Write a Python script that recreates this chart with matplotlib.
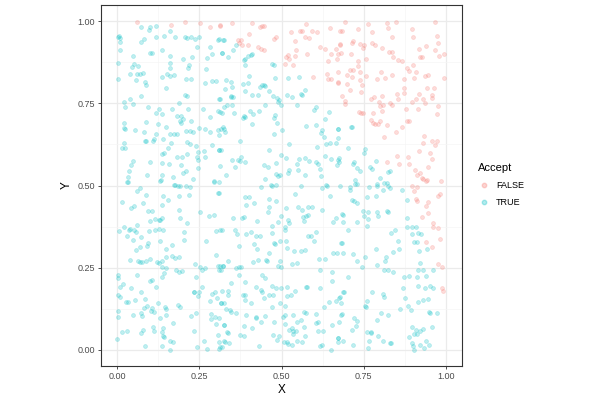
import numpy as np
import matplotlib
matplotlib.use("Agg")
import matplotlib.pyplot as plt
from matplotlib.lines import Line2D

plt.rcParams['font.family'] = ['Liberation Sans', 'DejaVu Sans']

# points, split by the "Accept" colour
false_x = [0.060, 0.164, 0.207, 0.252, 0.283, 0.313,
           0.312, 0.350, 0.411, 0.435, 0.441, 0.446, 0.366, 0.377, 0.370, 0.380, 0.398, 0.400, 0.429, 0.438,
           0.446, 0.477, 0.484, 0.528, 0.541, 0.555, 0.563, 0.575, 0.573, 0.583, 0.592, 0.607, 0.647, 0.677,
           0.519, 0.515, 0.524, 0.543, 0.541, 0.578, 0.535, 0.512, 0.617, 0.634, 0.665, 0.651, 0.677, 0.680,
           0.670, 0.642, 0.596, 0.638, 0.642, 0.650, 0.672,
           0.693, 0.683, 0.734, 0.764, 0.775, 0.820, 0.825, 0.848, 0.838, 0.897, 0.902, 0.968, 0.975, 0.978,
           0.968, 0.941, 0.920, 0.922, 0.927, 0.980, 0.994, 0.717, 0.714, 0.739, 0.749, 0.752, 0.775, 0.785,
           0.711, 0.673, 0.677, 0.807, 0.827, 0.836, 0.839, 0.854, 0.866, 0.759, 0.734, 0.734, 0.710, 0.717,
           0.739, 0.701, 0.716, 0.756, 0.803, 0.790, 0.815, 0.838, 0.874, 0.881, 0.889, 0.901, 0.910, 0.905,
           0.937, 0.947, 0.994, 0.673, 0.673, 0.701, 0.738, 0.746, 0.709, 0.743, 0.685, 0.693, 0.695, 0.773,
           0.783, 0.805, 0.851, 0.856, 0.874, 0.874, 0.918, 0.909, 0.897, 0.932, 0.937, 0.943, 0.960, 0.965,
           0.958, 0.797, 0.800, 0.810, 0.831, 0.836, 0.805, 0.976, 0.974, 0.917, 0.879, 0.736, 0.742, 0.749,
           0.780, 0.773, 0.778, 0.785, 0.795, 0.800, 0.820, 0.866, 0.848, 0.812, 0.881, 0.889, 0.935, 0.932,
           0.958, 0.973, 0.968, 0.919, 0.952, 0.960, 0.851, 0.884, 0.822, 0.859, 0.888, 0.945, 0.907, 0.921,
           0.914, 0.927, 0.932, 0.942, 0.986,
           0.897, 0.914, 0.905, 0.912, 0.909, 0.939, 0.947, 0.978, 0.983, 0.939, 0.947, 0.929, 0.963, 0.962,
           0.976, 0.984, 0.940, 0.958, 0.978, 0.988, 0.988, 0.991]
false_y = [0.998, 0.990, 0.998, 0.996, 0.984, 0.988,
           0.986, 0.995, 0.994, 0.982, 0.986, 0.986, 0.942, 0.943, 0.934, 0.927, 0.927, 0.961, 0.922, 0.917,
           0.914, 0.947, 0.952, 0.967, 0.940, 0.972, 0.972, 0.992, 0.952, 0.950, 0.971, 0.967, 0.980, 0.972,
           0.899, 0.891, 0.886, 0.914, 0.896, 0.900, 0.866, 0.869, 0.922, 0.917, 0.916, 0.901, 0.929, 0.903,
           0.886, 0.880, 0.832, 0.840, 0.823, 0.823, 0.813,
           0.998, 0.970, 0.978, 0.993, 0.967, 0.996, 0.981, 0.998, 0.954, 0.976, 0.954, 0.998, 0.956, 0.934,
           0.914, 0.925, 0.917, 0.891, 0.893, 0.896, 0.901, 0.939, 0.935, 0.930, 0.919, 0.929, 0.934, 0.929,
           0.901, 0.901, 0.930, 0.919, 0.906, 0.906, 0.893, 0.882, 0.879, 0.886, 0.878, 0.863, 0.853, 0.853,
           0.846, 0.837, 0.832, 0.835, 0.846, 0.825, 0.827, 0.837, 0.823, 0.858, 0.850, 0.866, 0.846, 0.827,
           0.833, 0.837, 0.829, 0.846, 0.815, 0.809, 0.820, 0.805, 0.790, 0.784, 0.772, 0.756, 0.749, 0.764,
           0.771, 0.774, 0.780, 0.764, 0.798, 0.783, 0.778, 0.763, 0.754, 0.764, 0.752, 0.798, 0.776, 0.797,
           0.766, 0.754, 0.742, 0.746, 0.751, 0.746, 0.726, 0.742, 0.718, 0.734, 0.732, 0.724, 0.722, 0.722,
           0.722, 0.701, 0.691, 0.688, 0.688, 0.698, 0.683, 0.678, 0.663, 0.647, 0.698, 0.696, 0.650, 0.630,
           0.637, 0.637, 0.624, 0.605, 0.600, 0.581, 0.589, 0.586, 0.571, 0.566, 0.566, 0.556, 0.546, 0.538,
           0.531, 0.523, 0.520, 0.518, 0.515,
           0.498, 0.495, 0.482, 0.452, 0.459, 0.515, 0.449, 0.469, 0.474, 0.437, 0.415, 0.403, 0.385, 0.373,
           0.371, 0.337, 0.327, 0.312, 0.261, 0.253, 0.188, 0.178]

true_x = [0.073, 0.098, 0.096, 0.118, 0.159, 0.006, 0.008, 0.003, 0.008, 0.081, 0.073, 0.118, 0.141, 0.177,
          0.205, 0.212, 0.225, 0.235, 0.250, 0.308, 0.324, 0.008, 0.242, 0.281, 0.135, 0.098, 0.106, 0.049,
          0.159, 0.200, 0.228, 0.273, 0.289, 0.320, 0.002, 0.050, 0.043, 0.064, 0.159, 0.161, 0.217, 0.214,
          0.271, 0.038, 0.061, 0.068, 0.077, 0.137, 0.152, 0.161, 0.171, 0.002, 0.057, 0.084, 0.086, 0.149,
          0.210, 0.223, 0.268, 0.289, 0.299, 0.207, 0.211, 0.072, 0.038, 0.019, 0.049, 0.189, 0.312, 0.023,
          0.094, 0.126, 0.118, 0.137, 0.165, 0.214, 0.261, 0.306, 0.320, 0.182, 0.195, 0.200, 0.281, 0.019,
          0.087, 0.125, 0.190, 0.193, 0.223, 0.019, 0.022, 0.054, 0.081, 0.118, 0.147, 0.159, 0.171, 0.183,
          0.208, 0.220, 0.230, 0.250, 0.266, 0.283, 0.307, 0.324, 0.088, 0.084, 0.108, 0.113, 0.140, 0.162,
          0.213, 0.220, 0.240, 0.247, 0.265, 0.287, 0.309, 0.315, 0.019, 0.013, 0.024, 0.154, 0.142, 0.137,
          0.183, 0.198, 0.212, 0.242, 0.246, 0.268, 0.049, 0.098, 0.137, 0.156, 0.194, 0.042, 0.245, 0.036,
          0.208, 0.201, 0.031, 0.091, 0.135, 0.170, 0.230, 0.031, 0.133, 0.176, 0.293,
          0.309, 0.323, 0.362, 0.352, 0.319, 0.336, 0.390, 0.386, 0.398, 0.406, 0.411, 0.388, 0.470, 0.477,
          0.400, 0.519, 0.553, 0.331, 0.345, 0.350, 0.329, 0.384, 0.398, 0.390, 0.436, 0.441, 0.448, 0.449,
          0.480, 0.463, 0.474, 0.487, 0.492, 0.517, 0.533, 0.558, 0.563, 0.571, 0.345, 0.352, 0.347, 0.409,
          0.428, 0.311, 0.333, 0.348, 0.325, 0.314, 0.355, 0.385, 0.390, 0.382, 0.404, 0.413, 0.431,
          0.451, 0.480, 0.477, 0.485, 0.499, 0.490, 0.546, 0.604, 0.599, 0.644, 0.632, 0.411, 0.321, 0.317,
          0.329, 0.309, 0.477, 0.502, 0.575, 0.606, 0.624, 0.673, 0.621, 0.630, 0.636, 0.649, 0.665, 0.524,
          0.374, 0.309, 0.607, 0.463, 0.497, 0.514, 0.553, 0.571, 0.583, 0.604, 0.612, 0.616, 0.632, 0.651,
          0.675, 0.670, 0.350, 0.367, 0.377, 0.374, 0.390, 0.358, 0.314, 0.446, 0.459, 0.482, 0.524, 0.520,
          0.484, 0.490, 0.495, 0.548, 0.550, 0.571, 0.621, 0.637, 0.449, 0.469, 0.331, 0.310,
          0.714, 0.711, 0.673, 0.673, 0.703, 0.754, 0.752, 0.673, 0.675, 0.722, 0.717, 0.731, 0.739, 0.770,
          0.775, 0.788, 0.831, 0.825, 0.724, 0.800, 0.731, 0.792, 0.820,
          0.030, 0.131, 0.171, 0.184, 0.192, 0.210, 0.222, 0.218, 0.070, 0.060, 0.086, 0.139, 0.137, 0.154,
          0.189, 0.307, 0.293, 0.015, 0.041, 0.051, 0.077, 0.093, 0.106, 0.187, 0.192, 0.213, 0.252, 0.279,
          0.294, 0.116, 0.126, 0.130, 0.100, 0.137, 0.060, 0.004, 0.019, 0.028, 0.035, 0.039, 0.052, 0.057,
          0.048, 0.072, 0.096, 0.116, 0.126, 0.139, 0.202, 0.129, 0.094, 0.090, 0.068, 0.057, 0.149, 0.167,
          0.204, 0.271, 0.299, 0.301, 0.318, 0.039, 0.062, 0.068, 0.075, 0.098, 0.088, 0.120, 0.128, 0.137,
          0.147, 0.165, 0.175, 0.189, 0.179, 0.189, 0.198, 0.137, 0.149, 0.142, 0.135, 0.237, 0.253, 0.267,
          0.259, 0.305, 0.322, 0.002, 0.002, 0.017, 0.008, 0.040, 0.059, 0.098, 0.106, 0.118, 0.071, 0.001,
          0.008, 0.027, 0.033, 0.053, 0.085, 0.082, 0.091, 0.101, 0.111, 0.106, 0.124, 0.146, 0.147, 0.185,
          0.191, 0.149, 0.130, 0.169, 0.225, 0.240, 0.283, 0.289, 0.296, 0.304, 0.315, 0.324, 0.259, 0.250,
          0.245, 0.232, 0.240, 0.234, 0.001, 0.001, 0.047, 0.073, 0.075, 0.108, 0.113, 0.139, 0.079, 0.073,
          0.013, 0.030, 0.000, 0.135, 0.139, 0.141, 0.159, 0.169, 0.137, 0.159, 0.085, 0.234, 0.263, 0.243,
          0.274, 0.285, 0.286, 0.297, 0.299, 0.311, 0.325, 0.305, 0.313, 0.324,
          0.309, 0.388, 0.402, 0.392, 0.415, 0.438, 0.472, 0.484, 0.558, 0.624, 0.640, 0.677, 0.647, 0.541,
          0.461, 0.482, 0.463, 0.459, 0.498, 0.515, 0.550, 0.561, 0.581, 0.594, 0.624, 0.575, 0.580, 0.519,
          0.522, 0.570, 0.566, 0.658, 0.667, 0.685, 0.352, 0.380, 0.385, 0.426, 0.472, 0.512, 0.512, 0.488,
          0.314, 0.358, 0.365, 0.392, 0.407, 0.421, 0.433, 0.470, 0.494, 0.477, 0.480, 0.515, 0.604, 0.580,
          0.589, 0.599, 0.685, 0.416, 0.424, 0.463, 0.372, 0.517, 0.538, 0.558, 0.573, 0.658, 0.670, 0.614,
          0.634, 0.413, 0.429, 0.453, 0.456, 0.495, 0.490, 0.497, 0.548, 0.533, 0.337, 0.362, 0.372, 0.378,
          0.314, 0.321, 0.317, 0.309, 0.370, 0.345, 0.388, 0.441, 0.451, 0.470, 0.484, 0.499, 0.517, 0.541,
          0.530, 0.517, 0.616, 0.655, 0.655, 0.575, 0.578, 0.616, 0.687, 0.319, 0.337, 0.337, 0.382, 0.390,
          0.388, 0.423, 0.439, 0.441, 0.446, 0.461, 0.475, 0.470, 0.495, 0.512, 0.406, 0.315, 0.331, 0.343,
          0.345, 0.362, 0.392, 0.421, 0.423, 0.439, 0.449, 0.504, 0.512, 0.535, 0.547, 0.558, 0.568, 0.575,
          0.606, 0.604, 0.611, 0.644, 0.665, 0.675, 0.630, 0.683, 0.655, 0.325, 0.334, 0.337, 0.387, 0.409,
          0.476, 0.512, 0.522, 0.533, 0.536, 0.545, 0.568, 0.571, 0.535, 0.492, 0.474, 0.373, 0.385, 0.612,
          0.627, 0.673, 0.672, 0.309, 0.327, 0.339, 0.311, 0.319, 0.431, 0.486, 0.508, 0.517, 0.520, 0.531,
          0.548, 0.561, 0.616, 0.624, 0.652,
          0.709, 0.724, 0.709, 0.766, 0.790, 0.812, 0.823, 0.831, 0.866, 0.762, 0.788, 0.810, 0.714, 0.722,
          0.729, 0.883, 0.747, 0.764, 0.752, 0.764, 0.790, 0.793, 0.820, 0.823, 0.688, 0.688, 0.729, 0.761,
          0.703, 0.834, 0.846, 0.881, 0.881, 0.899, 0.909, 0.897, 0.917, 0.925, 0.854, 0.905, 0.912, 0.942,
          0.919, 0.858, 0.841, 0.788, 0.681, 0.686, 0.719, 0.754, 0.729, 0.815, 0.790, 0.817, 0.922, 0.744,
          0.813, 0.823, 0.841, 0.917, 0.932, 0.963, 0.874, 0.889, 0.914, 0.940, 0.703, 0.871, 0.917, 0.937,
          0.953, 0.961, 0.945, 0.930, 0.915, 0.876, 0.810, 0.813, 0.777, 0.761, 0.690, 0.678, 0.681, 0.754,
          0.757, 0.886, 0.861, 0.894, 0.949, 0.952, 0.975, 0.803, 0.825, 0.682, 0.676, 0.721, 0.731, 0.727,
          0.716, 0.790, 0.762, 0.774, 0.772, 0.795, 0.810, 0.831, 0.834, 0.897, 0.909, 0.932, 0.922, 0.905,
          0.914, 0.889, 0.960, 0.673, 0.688, 0.719, 0.766, 0.764, 0.897, 0.902, 0.922, 0.941, 0.949, 0.905,
          0.935]
true_y = [0.982, 0.982, 0.975, 0.986, 0.970, 0.955, 0.950, 0.952, 0.937, 0.945, 0.937, 0.952, 0.955, 0.953,
          0.954, 0.950, 0.953, 0.947, 0.951, 0.944, 0.944, 0.913, 0.921, 0.921, 0.913, 0.903, 0.903, 0.894,
          0.896, 0.886, 0.891, 0.890, 0.900, 0.903, 0.872, 0.870, 0.860, 0.864, 0.873, 0.858, 0.868, 0.858,
          0.854, 0.840, 0.840, 0.841, 0.843, 0.831, 0.841, 0.835, 0.838, 0.823, 0.822, 0.816, 0.806, 0.798,
          0.823, 0.826, 0.813, 0.818, 0.818, 0.776, 0.772, 0.772, 0.764, 0.755, 0.748, 0.750, 0.763, 0.738,
          0.739, 0.732, 0.722, 0.719, 0.733, 0.733, 0.734, 0.727, 0.721, 0.713, 0.711, 0.703, 0.710, 0.691,
          0.694, 0.687, 0.698, 0.691, 0.698, 0.675, 0.673, 0.670, 0.662, 0.657, 0.677, 0.658, 0.657, 0.658,
          0.666, 0.667, 0.663, 0.675, 0.672, 0.663, 0.670, 0.673, 0.635, 0.635, 0.637, 0.642, 0.642, 0.631,
          0.634, 0.625, 0.619, 0.602, 0.606, 0.622, 0.607, 0.607, 0.630, 0.614, 0.614, 0.613, 0.599, 0.597,
          0.586, 0.586, 0.597, 0.586, 0.578, 0.586, 0.576, 0.572, 0.569, 0.565, 0.562, 0.561, 0.554, 0.545,
          0.544, 0.538, 0.526, 0.533, 0.532, 0.526, 0.520, 0.510, 0.516, 0.503, 0.514,
          0.945, 0.944, 0.927, 0.912, 0.903, 0.891, 0.886, 0.881, 0.896, 0.898, 0.900, 0.866, 0.869, 0.866,
          0.833, 0.827, 0.832, 0.820, 0.816, 0.800, 0.795, 0.808, 0.813, 0.788, 0.800, 0.807, 0.805, 0.802,
          0.827, 0.789, 0.772, 0.766, 0.762, 0.776, 0.771, 0.780, 0.776, 0.792, 0.771, 0.769, 0.774, 0.776,
          0.776, 0.764, 0.746, 0.744, 0.739, 0.724, 0.722, 0.713, 0.710, 0.705, 0.728, 0.719, 0.726,
          0.744, 0.715, 0.705, 0.691, 0.746, 0.754, 0.746, 0.739, 0.729, 0.724, 0.703, 0.686, 0.678, 0.671,
          0.663, 0.655, 0.658, 0.668, 0.681, 0.683, 0.670, 0.671, 0.660, 0.647, 0.627, 0.630, 0.630, 0.627,
          0.635, 0.609, 0.617, 0.607, 0.594, 0.584, 0.580, 0.584, 0.575, 0.571, 0.565, 0.550, 0.589, 0.580,
          0.584, 0.561, 0.579, 0.579, 0.588, 0.574, 0.571, 0.556, 0.558, 0.561, 0.555, 0.569, 0.548, 0.538,
          0.535, 0.529, 0.531, 0.566, 0.548, 0.533, 0.529, 0.503, 0.519, 0.503, 0.531, 0.510,
          0.678, 0.678, 0.673, 0.644, 0.614, 0.612, 0.599, 0.579, 0.571, 0.573, 0.564, 0.553, 0.543, 0.556,
          0.551, 0.576, 0.545, 0.541, 0.518, 0.523, 0.505, 0.505, 0.508,
          0.510, 0.515, 0.503, 0.500, 0.500, 0.498, 0.495, 0.471, 0.493, 0.482, 0.470, 0.469, 0.442, 0.457,
          0.467, 0.476, 0.512, 0.449, 0.431, 0.437, 0.446, 0.422, 0.423, 0.425, 0.401, 0.385, 0.420, 0.406,
          0.411, 0.398, 0.394, 0.396, 0.391, 0.400, 0.381, 0.360, 0.373, 0.347, 0.365, 0.368, 0.363, 0.357,
          0.334, 0.342, 0.361, 0.365, 0.367, 0.363, 0.358, 0.331, 0.326, 0.317, 0.312, 0.304, 0.308, 0.320,
          0.334, 0.331, 0.287, 0.360, 0.363, 0.273, 0.271, 0.266, 0.268, 0.275, 0.271, 0.267, 0.265, 0.269,
          0.283, 0.286, 0.279, 0.281, 0.243, 0.236, 0.239, 0.253, 0.249, 0.232, 0.220, 0.261, 0.253, 0.249,
          0.241, 0.255, 0.255, 0.227, 0.219, 0.200, 0.192, 0.187, 0.227, 0.209, 0.212, 0.190, 0.174, 0.166,
          0.161, 0.145, 0.145, 0.151, 0.155, 0.128, 0.133, 0.119, 0.116, 0.126, 0.143, 0.131, 0.124, 0.137,
          0.131, 0.106, 0.095, 0.082, 0.102, 0.112, 0.149, 0.169, 0.177, 0.156, 0.141, 0.141, 0.190, 0.177,
          0.164, 0.177, 0.220, 0.175, 0.119, 0.098, 0.104, 0.113, 0.103, 0.068, 0.056, 0.065, 0.061, 0.051,
          0.053, 0.058, 0.032, 0.053, 0.041, 0.037, 0.027, 0.022, 0.012, 0.000, 0.012, 0.058, 0.027, 0.007,
          0.002, 0.108, 0.092, 0.098, 0.078, 0.096, 0.076, 0.045, 0.007, 0.025,
          0.476, 0.464, 0.464, 0.442, 0.446, 0.495, 0.498, 0.501, 0.500, 0.493, 0.498, 0.500, 0.467, 0.474,
          0.459, 0.454, 0.436, 0.420, 0.408, 0.432, 0.434, 0.424, 0.434, 0.434, 0.424, 0.408, 0.411, 0.396,
          0.386, 0.393, 0.405, 0.390, 0.400, 0.413, 0.401, 0.401, 0.403, 0.391, 0.378, 0.373, 0.363, 0.390,
          0.363, 0.363, 0.352, 0.352, 0.357, 0.345, 0.345, 0.354, 0.330, 0.324, 0.322, 0.330, 0.357, 0.347,
          0.347, 0.330, 0.324, 0.322, 0.305, 0.294, 0.315, 0.309, 0.300, 0.300, 0.304, 0.293, 0.293, 0.275,
          0.277, 0.268, 0.273, 0.273, 0.271, 0.271, 0.255, 0.253, 0.265, 0.260, 0.269, 0.250, 0.253, 0.253,
          0.255, 0.255, 0.243, 0.241, 0.228, 0.204, 0.205, 0.227, 0.217, 0.195, 0.187, 0.187, 0.192, 0.180,
          0.167, 0.164, 0.243, 0.236, 0.210, 0.190, 0.190, 0.187, 0.177, 0.180, 0.180, 0.167, 0.166, 0.167,
          0.152, 0.192, 0.182, 0.177, 0.158, 0.166, 0.166, 0.129, 0.141, 0.134, 0.141, 0.141, 0.124, 0.121,
          0.116, 0.111, 0.106, 0.098, 0.095, 0.085, 0.101, 0.098, 0.106, 0.106, 0.083, 0.091, 0.114, 0.111,
          0.108, 0.081, 0.085, 0.146, 0.149, 0.156, 0.131, 0.108, 0.076, 0.076, 0.053, 0.051, 0.071, 0.066,
          0.085, 0.078, 0.060, 0.066, 0.056, 0.058, 0.068, 0.042, 0.046, 0.040, 0.045, 0.045, 0.040, 0.056,
          0.058, 0.035, 0.022, 0.024, 0.022, 0.019, 0.002, 0.007, 0.010, 0.029, 0.022, 0.023, 0.017, 0.013,
          0.025, 0.022, 0.010, 0.014, 0.000,
          0.495, 0.505, 0.485, 0.495, 0.498, 0.507, 0.497, 0.493, 0.487, 0.466, 0.467, 0.485, 0.456, 0.454,
          0.446, 0.457, 0.422, 0.418, 0.406, 0.398, 0.420, 0.408, 0.422, 0.418, 0.411, 0.390, 0.390, 0.376,
          0.365, 0.355, 0.363, 0.401, 0.373, 0.375, 0.373, 0.352, 0.355, 0.352, 0.332, 0.329, 0.329, 0.307,
          0.299, 0.305, 0.296, 0.307, 0.324, 0.294, 0.291, 0.281, 0.269, 0.269, 0.259, 0.283, 0.265, 0.251,
          0.241, 0.243, 0.236, 0.241, 0.243, 0.241, 0.220, 0.225, 0.220, 0.225, 0.222, 0.188, 0.193, 0.187,
          0.195, 0.188, 0.154, 0.151, 0.144, 0.157, 0.169, 0.159, 0.177, 0.149, 0.177, 0.159, 0.141, 0.134,
          0.131, 0.134, 0.124, 0.121, 0.116, 0.111, 0.111, 0.112, 0.106, 0.106, 0.083, 0.095, 0.088, 0.071,
          0.060, 0.090, 0.053, 0.053, 0.050, 0.040, 0.027, 0.021, 0.021, 0.068, 0.061, 0.063, 0.056, 0.046,
          0.048, 0.037, 0.068, 0.035, 0.027, 0.013, 0.025, 0.004, 0.020, 0.012, 0.015, 0.025, 0.013, 0.000,
          0.005]

legend_title = "Accept"
legend_labels = ["FALSE", "TRUE"]
tick_vals = [0.0, 0.25, 0.5, 0.75, 1.0]
tick_labels = ["0.00", "0.25", "0.50", "0.75", "1.00"]

red = "#F8766D"
teal = "#00BFC4"

fig = plt.figure(figsize=(6, 4), dpi=100)
ax = fig.add_axes([101 / 600, 1 - 366 / 400, 361 / 600, 361 / 400])

ax.scatter(false_x, false_y, s=8, color=red, alpha=0.25, edgecolors=red, linewidths=0.5, zorder=3)
ax.scatter(true_x, true_y, s=8, color=teal, alpha=0.25, edgecolors=teal, linewidths=0.5, zorder=3)

ax.set_xlim(-0.05, 1.05)
ax.set_ylim(-0.05, 1.05)
ax.set_xticks(tick_vals)
ax.set_xticklabels(tick_labels)
ax.set_yticks(tick_vals)
ax.set_yticklabels(tick_labels)
minor = [0.125, 0.375, 0.625, 0.875]
ax.set_xticks(minor, minor=True)
ax.set_yticks(minor, minor=True)
ax.grid(True, which="major", color="#EBEBEB", linewidth=0.9, zorder=0)
ax.grid(True, which="minor", color="#F5F5F5", linewidth=0.5, zorder=0)
ax.set_axisbelow(True)
ax.tick_params(which="major", length=2.5, width=0.6, color="#333333", labelsize=6.5,
               labelcolor="#4D4D4D", pad=2)
ax.tick_params(which="minor", length=0)
for sp in ax.spines.values():
    sp.set_color("#333333")
    sp.set_linewidth(0.8)

ax.set_xlabel("X", fontsize=8.5, labelpad=2)
ax.set_ylabel("Y", fontsize=8.5, labelpad=3)

handles = [Line2D([], [], marker="o", linestyle="", markersize=3.2, color=red, alpha=0.3),
           Line2D([], [], marker="o", linestyle="", markersize=3.2, color=teal, alpha=0.3)]
leg = fig.legend(handles, legend_labels, title=legend_title, loc="upper left",
                 bbox_to_anchor=(470 / 600, 1 - 155 / 400), frameon=False, fontsize=6.5,
                 title_fontsize=8, alignment="left", handletextpad=0.8, labelspacing=0.9,
                 handlelength=1.2)

fig.savefig("out.png", dpi=100)
